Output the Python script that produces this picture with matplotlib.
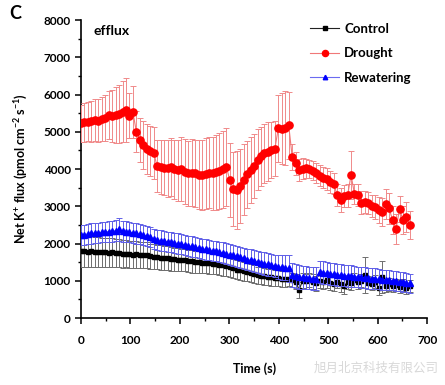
import matplotlib
matplotlib.use("Agg")
import matplotlib.pyplot as plt
import numpy as np
from matplotlib.ticker import MultipleLocator

plt.rcParams['font.family'] = ['Lato', 'DejaVu Sans']
plt.rcParams['mathtext.default'] = 'regular'

# time points (s), one measurement every 7 s
time = np.arange(0, 666, 7)

control = [1800, 1790, 1780, 1790, 1770, 1780, 1760, 1770, 1750, 1760,
           1740, 1750, 1720, 1730, 1710, 1700, 1710, 1690, 1700, 1680,
           1660, 1650, 1640, 1620, 1610, 1600, 1590, 1580, 1570, 1560,
           1550, 1530, 1520, 1510, 1500, 1490, 1480, 1470, 1450, 1440,
           1420, 1410, 1390, 1360, 1330, 1300, 1280, 1250, 1230, 1200,
           1180, 1150, 1130, 1120, 1100, 1090, 1080, 1070, 1050, 1040,
           1060, 1020, 980, 760, 1000, 990, 1010, 980, 930, 1000,
           960, 1010, 950, 920, 980, 900, 850, 970, 930, 1030,
           960, 1000, 1150, 950, 920, 980, 800, 1100, 870, 900,
           860, 880, 840, 890, 800, 860]
control_err = [420, 420, 410, 410, 400, 400, 400, 390, 390, 380,
               380, 380, 370, 370, 360, 360, 360, 350, 350, 350,
               340, 340, 330, 330, 320, 320, 320, 310, 310, 300,
               300, 300, 300, 290, 290, 290, 280, 280, 280, 270,
               270, 270, 260, 260, 260, 250, 250, 250, 240, 240,
               240, 230, 230, 230, 220, 220, 220, 210, 210, 210,
               200, 200, 200, 210, 200, 200, 190, 190, 200, 190,
               190, 200, 190, 190, 180, 190, 200, 190, 180, 190,
               180, 180, 480, 180, 180, 170, 180, 440, 170, 170,
               170, 160, 170, 160, 150, 150]

drought = [5230, 5250, 5270, 5280, 5310, 5300, 5340, 5380, 5450, 5420,
           5450, 5480, 5540, 5590, 5430, 5520, 5000, 4780, 4650, 4540,
           4480, 4440, 4070, 4060, 4030, 4020, 4050, 3990, 3970, 4000,
           3930, 3880, 3900, 3880, 3850, 3840, 3870, 3900, 3880, 3910,
           3950, 3990, 4050, 3700, 3460, 3440, 3540, 3710, 3860, 3980,
           4080, 4250, 4340, 4420, 4470, 4510, 4550, 5090, 5080, 5100,
           5170, 4330, 4150, 3980, 4010, 4020, 4000, 3960, 3890, 3820,
           3770, 3730, 3660, 3600, 3300, 3170, 3270, 3290, 3840, 3330,
           3300, 3100, 3120, 3080, 3010, 2970, 2900, 2850, 3060, 2940,
           2630, 2390, 2920, 2630, 2720, 2500]
drought_err = [500, 520, 530, 550, 560, 580, 600, 620, 650, 700,
               750, 780, 820, 860, 600, 700, 550, 600, 650, 680,
               680, 700, 700, 720, 740, 760, 780, 800, 820, 850,
               870, 880, 900, 900, 920, 930, 950, 960, 980, 1000,
               1020, 1040, 1050, 1000, 1000, 1050, 1000, 950, 900, 880,
               850, 820, 800, 800, 780, 760, 750, 900, 950, 1000,
               900, 350, 300, 300, 280, 260, 250, 250, 260, 280,
               280, 300, 300, 280, 300, 320, 300, 300, 650, 280,
               300, 320, 300, 300, 300, 320, 350, 380, 400, 420,
               380, 400, 350, 380, 400, 380]

rewatering = [2220, 2240, 2260, 2270, 2280, 2290, 2300, 2310, 2320, 2330,
              2340, 2380, 2330, 2320, 2300, 2290, 2270, 2250, 2230, 2200,
              2170, 2130, 2100, 2080, 2060, 2050, 2040, 2020, 2000, 1980,
              1960, 1940, 1920, 1900, 1880, 1860, 1840, 1830, 1810, 1790,
              1770, 1750, 1730, 1700, 1680, 1660, 1630, 1600, 1570, 1550,
              1530, 1500, 1480, 1460, 1440, 1420, 1400, 1380, 1360, 1350,
              1330, 1160, 1120, 1100, 1090, 1080, 1070, 1060, 1060, 1240,
              1220, 1200, 1190, 1180, 1160, 1150, 1140, 1130, 1120, 1110,
              1100, 1090, 1080, 1070, 1060, 1050, 1040, 1030, 1020, 1010,
              1000, 990, 980, 970, 950, 930]
rewatering_err = [270, 270, 270, 270, 270, 270, 270, 270, 280, 280,
                  280, 300, 280, 280, 270, 270, 270, 270, 270, 270,
                  270, 270, 270, 270, 270, 270, 270, 270, 270, 270,
                  270, 270, 270, 270, 270, 270, 270, 270, 270, 270,
                  270, 280, 280, 280, 280, 280, 280, 290, 290, 290,
                  290, 290, 300, 300, 300, 300, 300, 320, 330, 340,
                  350, 330, 320, 320, 310, 310, 300, 300, 300, 300,
                  300, 300, 300, 300, 290, 290, 290, 290, 290, 290,
                  280, 280, 280, 280, 280, 280, 270, 270, 270, 270,
                  260, 260, 260, 260, 250, 250]

fig = plt.figure(figsize=(4.45, 3.85), dpi=100)
ax = fig.add_axes([0.182, 0.174, 0.778, 0.774])

# black control
c1 = ax.errorbar(time, control, yerr=control_err, color='#222222', ecolor='#6e6e6e',
                 elinewidth=0.7, capsize=2.2, capthick=0.7, marker='s', markersize=3.4,
                 markerfacecolor='black', markeredgecolor='black', lw=0.8,
                 label='Control', zorder=3)
# red drought
c2 = ax.errorbar(time, drought, yerr=drought_err, color='#f07878', ecolor='#f08a8a',
                 elinewidth=0.7, capsize=2.2, capthick=0.7, marker='o', markersize=5.2,
                 markerfacecolor='red', markeredgecolor='red', lw=0.8,
                 label='Drought', zorder=3)
# blue rewatering
c3 = ax.errorbar(time, rewatering, yerr=rewatering_err, color='#6b6bf0', ecolor='#6060e8',
                 elinewidth=0.7, capsize=2.2, capthick=0.7, marker='^', markersize=3.8,
                 markerfacecolor='#0000ff', markeredgecolor='#0000ff', lw=0.8,
                 label='Rewatering', zorder=4)

ax.set_xlim(0, 700)
ax.set_ylim(0, 8000)
ax.xaxis.set_major_locator(MultipleLocator(100))
ax.xaxis.set_minor_locator(MultipleLocator(50))
ax.yaxis.set_major_locator(MultipleLocator(1000))
ax.yaxis.set_minor_locator(MultipleLocator(500))
ax.spines['top'].set_visible(False)
ax.spines['right'].set_visible(False)
ax.spines['left'].set_linewidth(1.2)
ax.spines['bottom'].set_linewidth(1.2)
ax.tick_params(which='major', direction='out', length=4, width=1.1, labelsize=8.5)
ax.tick_params(axis='x', which='major', pad=8)
ax.tick_params(which='minor', direction='out', length=2.5, width=1.0)
for lab in ax.get_xticklabels() + ax.get_yticklabels():
    lab.set_fontweight('bold')

ax.set_xlabel('Time (s)', fontsize=9, fontweight='bold', labelpad=12)
ax.set_ylabel('Net K$^{+}$ flux (pmol cm$^{-2}$ s$^{-1}$)', fontsize=9,
              fontweight='bold', labelpad=10)

ax.text(25, 7700, 'efflux', fontsize=10, fontweight='bold', va='center')
fig.text(0.02, 0.965, 'C', fontsize=13, fontweight='bold', va='center')

# legend without the error-bar strokes
handles = [c[0] for c in (c1, c2, c3)]
leg = ax.legend(handles, ['Control', 'Drought', 'Rewatering'], loc='upper right',
                bbox_to_anchor=(0.99, 1.03), frameon=False,
                fontsize=9.5, handlelength=2.2, handletextpad=0.4, labelspacing=0.95,
                markerscale=0.85)
for t in leg.get_texts():
    t.set_fontweight('bold')

fig.text(0.985, 0.045, '旭月北京科技有限公司', fontsize=9, color='#d8d8d8',
         ha='right', va='center', family=['Noto Sans CJK SC', 'DejaVu Sans'])

fig.savefig('out.png', dpi=100)
